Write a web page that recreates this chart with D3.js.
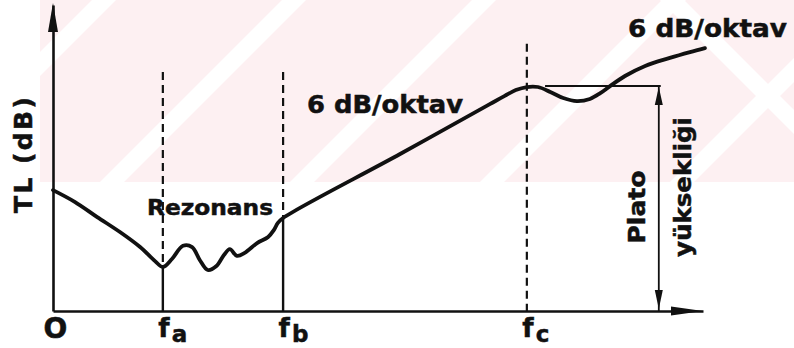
<!DOCTYPE html>
<html>
<head>
<meta charset="utf-8">
<script src="https://cdn.jsdelivr.net/npm/d3@7"></script>
<style>
  html, body { margin: 0; padding: 0; background: #fff; }
  svg { display: block; }
  text { font-family: "DejaVu Sans", sans-serif; font-weight: bold; fill: #111; stroke: #111; stroke-width: 0.5px; }
</style>
</head>
<body>
<svg id="chart" width="794" height="348"></svg>
<script>
// Transmission loss (TL) of a single wall versus frequency, schematic.
// Frequency and level are in arbitrary relative units (0..100).
const curveFreq = [0, 3.4, 6.8, 10.3, 13.4, 15.7, 16.9, 18.3, 20.0, 21.4, 22.6, 23.8, 25.1, 26.3, 27.2, 28.3, 29.5, 31.4, 33.1, 34.0, 34.6, 35.4,
                   53.4, 67.2, 69.5, 71.2, 72.9, 74.6, 76.5, 78.5, 80.6, 82.6, 84.2, 85.7, 88.0, 91.1, 94.9, 98.0, 100.3];
const curveTL   = [39.5, 35.6, 30.7, 25.8, 20.9, 16.3, 14.4, 17.0, 21.3, 20.9, 16.6, 13.4, 14.6, 18.3, 20.2, 18.0, 19.0, 22.2, 24.2, 26.5, 28.8, 30.4,
                   51.3, 67.6, 70.3, 72.2, 73.2, 73.2, 71.6, 69.6, 68.6, 69.3, 71.2, 73.5, 76.8, 80.1, 82.7, 84.6, 85.9];

// Characteristic frequencies on the horizontal axis
const markerFreq   = [0, 16.9, 35.4, 72.9];
const markerName   = ["O", "f", "f", "f"];
const markerSub    = ["", "a", "b", "c"];
// Top of the guide line drawn at each of fa, fb, fc
const guideTop     = [78.1, 78.1, 87.3];
// TL level where each guide line meets the curve (solid below, dashed above); null = dashed throughout
const guideMeet    = [14.4, 30.4, null];

// Plateau reference level and its horizontal extent
const plateauLevel = 73.5;
const plateauFrom  = 75.7;
const plateauTo    = 93.5;
const plateauArrow = 93.2;

const svg = d3.select("#chart");
const W = 794, H = 348;

const x = d3.scaleLinear().domain([0, 100]).range([53, 703]);
const y = d3.scaleLinear().domain([0, 100]).range([311, 5]);

// --- faint background tint of the printed page ---
const tint = svg.append("g");
tint.append("clipPath").attr("id", "tintClip")
  .append("rect").attr("x", 0).attr("y", 0).attr("width", W).attr("height", 182);
const tg = tint.append("g").attr("clip-path", "url(#tintClip)");
tg.append("rect").attr("x", 40).attr("y", 0).attr("width", W - 40).attr("height", 182).attr("fill", "#fdf0f2");
// light diagonal gaps
d3.range(-1, 4).forEach(i => {
  const x0 = 100 + i * 190;
  tg.append("path")
    .attr("d", `M${x0},182 L${x0 + 24},182 L${x0 + 206},0 L${x0 + 182},0 Z`)
    .attr("fill", "#ffffff");
});
d3.range(0, 2).forEach(i => {
  const x0 = 660 + i * 150;
  tg.append("path")
    .attr("d", `M${x0},0 L${x0 + 24},0 L${x0 + 206},182 L${x0 + 182},182 Z`)
    .attr("fill", "#ffffff");
});

// --- axes ---
const xAxis = d3.axisBottom(x)
  .tickValues(markerFreq)
  .tickSize(0)
  .tickSizeOuter(0)
  .tickFormat("");
const gx = svg.append("g").attr("transform", `translate(0,${y(0)})`).call(xAxis);
gx.select(".domain").attr("stroke", "#111").attr("stroke-width", 2.6);

const yAxis = d3.axisLeft(y).tickValues([]).tickSizeOuter(0);
const gy = svg.append("g").attr("transform", `translate(${x(0)},0)`).call(yAxis);
gy.select(".domain").attr("stroke", "#111").attr("stroke-width", 2.6);

// arrowheads at axis ends
svg.append("path")
  .attr("d", `M${x(0)},${y(100) - 2} L${x(0) + 5},${y(100) + 27} L${x(0) - 5},${y(100) + 27} Z`)
  .attr("fill", "#111");
svg.append("path")
  .attr("d", `M${x(100)},${y(0)} L${x(100) - 32},${y(0) - 4.5} L${x(100) - 32},${y(0) + 4.5} Z`)
  .attr("fill", "#111");

// tick labels with subscripts
gx.selectAll(".tick").each(function (d, i) {
  const t = d3.select(this).append("text")
    .attr("fill", "#111")
    .attr("text-anchor", "start")
    .attr("y", i === 0 ? 27 : 26)
    .attr("x", i === 0 ? -10 : -5)
    .style("font-size", i === 0 ? "28px" : "26px")
    .style("font-family", "'DejaVu Sans', sans-serif")
    .style("font-weight", "bold");
  t.append("tspan").text(markerName[i]);
  if (markerSub[i]) {
    t.append("tspan").attr("dy", 5).attr("dx", 2).style("font-size", "23px").text(markerSub[i]);
  }
});

// --- guide lines at fa, fb, fc ---
markerFreq.slice(1).forEach((f, i) => {
  const meet = guideMeet[i];
  svg.append("line")
    .attr("x1", x(f)).attr("x2", x(f))
    .attr("y1", y(guideTop[i])).attr("y2", meet === null ? y(0) : y(meet))
    .attr("stroke", "#111").attr("stroke-width", 2.2)
    .attr("stroke-dasharray", "8,5");
  if (meet !== null) {
    svg.append("line")
      .attr("x1", x(f)).attr("x2", x(f))
      .attr("y1", y(meet)).attr("y2", y(0))
      .attr("stroke", "#111").attr("stroke-width", 2.4);
  }
});

// --- TL curve ---
const pts = curveFreq.map((f, i) => [f, curveTL[i]]);
const line = d3.line()
  .x(d => x(d[0]))
  .y(d => y(d[1]))
  .curve(d3.curveCatmullRom.alpha(0.5));
svg.append("path")
  .datum(pts)
  .attr("d", line)
  .attr("fill", "none")
  .attr("stroke", "#111")
  .attr("stroke-width", 3.8)
  .attr("stroke-linejoin", "round")
  .attr("stroke-linecap", "round");

// --- plateau height marker ---
svg.append("line")
  .attr("x1", x(plateauFrom)).attr("x2", x(plateauTo))
  .attr("y1", y(plateauLevel)).attr("y2", y(plateauLevel))
  .attr("stroke", "#111").attr("stroke-width", 2);
const ax = x(plateauArrow);
svg.append("line")
  .attr("x1", ax).attr("x2", ax)
  .attr("y1", y(plateauLevel)).attr("y2", y(0))
  .attr("stroke", "#111").attr("stroke-width", 1.8);
svg.append("path")
  .attr("d", `M${ax},${y(plateauLevel) + 1} L${ax + 4},${y(plateauLevel) + 19} L${ax - 4},${y(plateauLevel) + 19} Z`)
  .attr("fill", "#111");
svg.append("path")
  .attr("d", `M${ax},${y(0) - 2} L${ax + 4},${y(0) - 21} L${ax - 4},${y(0) - 21} Z`)
  .attr("fill", "#111");

// --- annotations ---
svg.append("text")
  .attr("transform", `translate(${x(0) - 21},155) rotate(-90)`)
  .attr("text-anchor", "middle")
  .attr("textLength", 116).attr("lengthAdjust", "spacing")
  .style("font-size", "25px")
  .text("TL (dB)");

svg.append("text")
  .attr("x", 147).attr("y", 215)
  .attr("textLength", 126).attr("lengthAdjust", "spacingAndGlyphs")
  .style("font-size", "21px")
  .text("Rezonans");

svg.append("text")
  .attr("x", 307).attr("y", 113)
  .attr("textLength", 156).attr("lengthAdjust", "spacingAndGlyphs")
  .style("font-size", "24px")
  .text("6 dB/oktav");

svg.append("text")
  .attr("x", 628).attr("y", 37)
  .attr("textLength", 159).attr("lengthAdjust", "spacingAndGlyphs")
  .style("font-size", "24px")
  .text("6 dB/oktav");

svg.append("text")
  .attr("transform", `translate(${ax - 14},207) rotate(-90)`)
  .attr("text-anchor", "middle")
  .attr("textLength", 73).attr("lengthAdjust", "spacingAndGlyphs")
  .style("font-size", "23px")
  .text("Plato");

svg.append("text")
  .attr("transform", `translate(${ax + 32},187) rotate(-90)`)
  .attr("text-anchor", "middle")
  .attr("textLength", 140).attr("lengthAdjust", "spacingAndGlyphs")
  .style("font-size", "23px")
  .text("yüksekliği");
</script>
</body>
</html>
